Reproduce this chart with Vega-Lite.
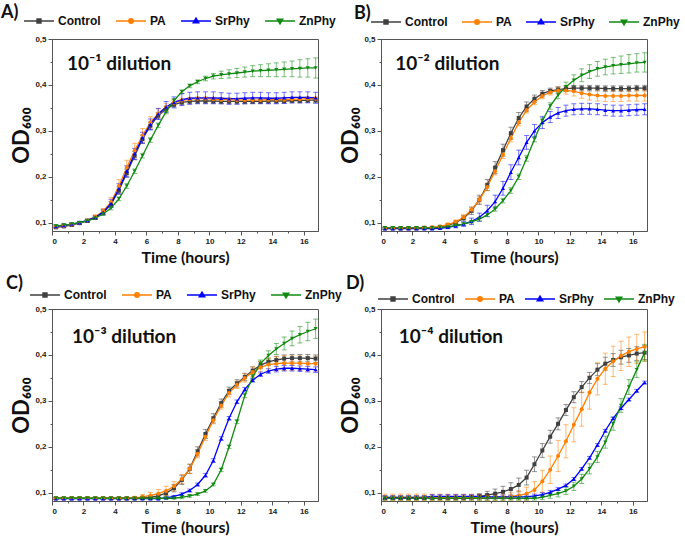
{
"$schema":"https://vega.github.io/schema/vega-lite/v6.json",
"padding":{"left":0,"top":3,"right":0,"bottom":0},
"background":"white",
"columns":2,
"spacing":{"row":78,"column":63},
"bounds":"flush",
"resolve":{"scale":{"color":"independent"},"legend":{"color":"independent"}},
"datasets":{
"A":[
{"s":"Control","t":0.25,"y":0.090,"e":0.002},{"s":"Control","t":0.75,"y":0.092,"e":0.002},{"s":"Control","t":1.25,"y":0.095,"e":0.002},{"s":"Control","t":1.75,"y":0.099,"e":0.002},{"s":"Control","t":2.25,"y":0.104,"e":0.002},{"s":"Control","t":2.75,"y":0.111,"e":0.003},{"s":"Control","t":3.25,"y":0.122,"e":0.004},{"s":"Control","t":3.75,"y":0.140,"e":0.006},{"s":"Control","t":4.25,"y":0.170,"e":0.008},{"s":"Control","t":4.75,"y":0.208,"e":0.009},{"s":"Control","t":5.25,"y":0.246,"e":0.009},{"s":"Control","t":5.75,"y":0.282,"e":0.009},{"s":"Control","t":6.25,"y":0.311,"e":0.008},{"s":"Control","t":6.75,"y":0.333,"e":0.007},{"s":"Control","t":7.25,"y":0.348,"e":0.006},{"s":"Control","t":7.75,"y":0.357,"e":0.005},{"s":"Control","t":8.25,"y":0.362,"e":0.005},{"s":"Control","t":8.75,"y":0.364,"e":0.005},{"s":"Control","t":9.25,"y":0.365,"e":0.005},{"s":"Control","t":9.75,"y":0.365,"e":0.005},{"s":"Control","t":10.25,"y":0.365,"e":0.005},{"s":"Control","t":10.75,"y":0.364,"e":0.005},{"s":"Control","t":11.25,"y":0.364,"e":0.005},{"s":"Control","t":11.75,"y":0.364,"e":0.005},{"s":"Control","t":12.25,"y":0.364,"e":0.005},{"s":"Control","t":12.75,"y":0.364,"e":0.005},{"s":"Control","t":13.25,"y":0.364,"e":0.005},{"s":"Control","t":13.75,"y":0.365,"e":0.005},{"s":"Control","t":14.25,"y":0.365,"e":0.005},{"s":"Control","t":14.75,"y":0.365,"e":0.005},{"s":"Control","t":15.25,"y":0.366,"e":0.005},{"s":"Control","t":15.75,"y":0.366,"e":0.005},{"s":"Control","t":16.25,"y":0.367,"e":0.005},{"s":"Control","t":16.75,"y":0.367,"e":0.005},
{"s":"PA","t":0.25,"y":0.091,"e":0.002},{"s":"PA","t":0.75,"y":0.093,"e":0.002},{"s":"PA","t":1.25,"y":0.096,"e":0.002},{"s":"PA","t":1.75,"y":0.100,"e":0.002},{"s":"PA","t":2.25,"y":0.105,"e":0.003},{"s":"PA","t":2.75,"y":0.113,"e":0.004},{"s":"PA","t":3.25,"y":0.125,"e":0.006},{"s":"PA","t":3.75,"y":0.145,"e":0.010},{"s":"PA","t":4.25,"y":0.180,"e":0.014},{"s":"PA","t":4.75,"y":0.220,"e":0.016},{"s":"PA","t":5.25,"y":0.257,"e":0.016},{"s":"PA","t":5.75,"y":0.290,"e":0.015},{"s":"PA","t":6.25,"y":0.318,"e":0.013},{"s":"PA","t":6.75,"y":0.338,"e":0.010},{"s":"PA","t":7.25,"y":0.352,"e":0.008},{"s":"PA","t":7.75,"y":0.361,"e":0.006},{"s":"PA","t":8.25,"y":0.366,"e":0.005},{"s":"PA","t":8.75,"y":0.369,"e":0.004},{"s":"PA","t":9.25,"y":0.370,"e":0.004},{"s":"PA","t":9.75,"y":0.370,"e":0.004},{"s":"PA","t":10.25,"y":0.369,"e":0.004},{"s":"PA","t":10.75,"y":0.368,"e":0.004},{"s":"PA","t":11.25,"y":0.368,"e":0.004},{"s":"PA","t":11.75,"y":0.367,"e":0.004},{"s":"PA","t":12.25,"y":0.367,"e":0.004},{"s":"PA","t":12.75,"y":0.367,"e":0.004},{"s":"PA","t":13.25,"y":0.367,"e":0.004},{"s":"PA","t":13.75,"y":0.368,"e":0.004},{"s":"PA","t":14.25,"y":0.368,"e":0.004},{"s":"PA","t":14.75,"y":0.368,"e":0.004},{"s":"PA","t":15.25,"y":0.369,"e":0.004},{"s":"PA","t":15.75,"y":0.369,"e":0.004},{"s":"PA","t":16.25,"y":0.370,"e":0.004},{"s":"PA","t":16.75,"y":0.370,"e":0.004},
{"s":"SrPhy","t":0.25,"y":0.092,"e":0.003},{"s":"SrPhy","t":0.75,"y":0.094,"e":0.003},{"s":"SrPhy","t":1.25,"y":0.097,"e":0.003},{"s":"SrPhy","t":1.75,"y":0.100,"e":0.003},{"s":"SrPhy","t":2.25,"y":0.105,"e":0.003},{"s":"SrPhy","t":2.75,"y":0.112,"e":0.004},{"s":"SrPhy","t":3.25,"y":0.123,"e":0.006},{"s":"SrPhy","t":3.75,"y":0.142,"e":0.009},{"s":"SrPhy","t":4.25,"y":0.174,"e":0.011},{"s":"SrPhy","t":4.75,"y":0.212,"e":0.012},{"s":"SrPhy","t":5.25,"y":0.250,"e":0.012},{"s":"SrPhy","t":5.75,"y":0.285,"e":0.012},{"s":"SrPhy","t":6.25,"y":0.314,"e":0.012},{"s":"SrPhy","t":6.75,"y":0.337,"e":0.012},{"s":"SrPhy","t":7.25,"y":0.352,"e":0.012},{"s":"SrPhy","t":7.75,"y":0.362,"e":0.012},{"s":"SrPhy","t":8.25,"y":0.368,"e":0.013},{"s":"SrPhy","t":8.75,"y":0.371,"e":0.013},{"s":"SrPhy","t":9.25,"y":0.372,"e":0.013},{"s":"SrPhy","t":9.75,"y":0.372,"e":0.013},{"s":"SrPhy","t":10.25,"y":0.372,"e":0.013},{"s":"SrPhy","t":10.75,"y":0.371,"e":0.012},{"s":"SrPhy","t":11.25,"y":0.370,"e":0.012},{"s":"SrPhy","t":11.75,"y":0.370,"e":0.012},{"s":"SrPhy","t":12.25,"y":0.371,"e":0.012},{"s":"SrPhy","t":12.75,"y":0.372,"e":0.012},{"s":"SrPhy","t":13.25,"y":0.372,"e":0.012},{"s":"SrPhy","t":13.75,"y":0.371,"e":0.012},{"s":"SrPhy","t":14.25,"y":0.371,"e":0.012},{"s":"SrPhy","t":14.75,"y":0.372,"e":0.012},{"s":"SrPhy","t":15.25,"y":0.373,"e":0.012},{"s":"SrPhy","t":15.75,"y":0.373,"e":0.012},{"s":"SrPhy","t":16.25,"y":0.373,"e":0.012},{"s":"SrPhy","t":16.75,"y":0.372,"e":0.012},
{"s":"ZnPhy","t":0.25,"y":0.093,"e":0.003},{"s":"ZnPhy","t":0.75,"y":0.095,"e":0.003},{"s":"ZnPhy","t":1.25,"y":0.097,"e":0.003},{"s":"ZnPhy","t":1.75,"y":0.100,"e":0.003},{"s":"ZnPhy","t":2.25,"y":0.104,"e":0.003},{"s":"ZnPhy","t":2.75,"y":0.110,"e":0.003},{"s":"ZnPhy","t":3.25,"y":0.119,"e":0.003},{"s":"ZnPhy","t":3.75,"y":0.132,"e":0.004},{"s":"ZnPhy","t":4.25,"y":0.152,"e":0.004},{"s":"ZnPhy","t":4.75,"y":0.180,"e":0.005},{"s":"ZnPhy","t":5.25,"y":0.212,"e":0.005},{"s":"ZnPhy","t":5.75,"y":0.246,"e":0.005},{"s":"ZnPhy","t":6.25,"y":0.280,"e":0.005},{"s":"ZnPhy","t":6.75,"y":0.312,"e":0.005},{"s":"ZnPhy","t":7.25,"y":0.342,"e":0.005},{"s":"ZnPhy","t":7.75,"y":0.366,"e":0.004},{"s":"ZnPhy","t":8.25,"y":0.385,"e":0.004},{"s":"ZnPhy","t":8.75,"y":0.398,"e":0.004},{"s":"ZnPhy","t":9.25,"y":0.407,"e":0.004},{"s":"ZnPhy","t":9.75,"y":0.414,"e":0.005},{"s":"ZnPhy","t":10.25,"y":0.419,"e":0.006},{"s":"ZnPhy","t":10.75,"y":0.422,"e":0.008},{"s":"ZnPhy","t":11.25,"y":0.424,"e":0.009},{"s":"ZnPhy","t":11.75,"y":0.426,"e":0.010},{"s":"ZnPhy","t":12.25,"y":0.428,"e":0.011},{"s":"ZnPhy","t":12.75,"y":0.430,"e":0.012},{"s":"ZnPhy","t":13.25,"y":0.431,"e":0.013},{"s":"ZnPhy","t":13.75,"y":0.432,"e":0.014},{"s":"ZnPhy","t":14.25,"y":0.433,"e":0.015},{"s":"ZnPhy","t":14.75,"y":0.434,"e":0.016},{"s":"ZnPhy","t":15.25,"y":0.435,"e":0.017},{"s":"ZnPhy","t":15.75,"y":0.436,"e":0.019},{"s":"ZnPhy","t":16.25,"y":0.437,"e":0.020},{"s":"ZnPhy","t":16.75,"y":0.437,"e":0.022}
],
"B":[
{"s":"Control","t":0.25,"y":0.088,"e":0.002},{"s":"Control","t":0.75,"y":0.088,"e":0.002},{"s":"Control","t":1.25,"y":0.088,"e":0.002},{"s":"Control","t":1.75,"y":0.088,"e":0.002},{"s":"Control","t":2.25,"y":0.088,"e":0.002},{"s":"Control","t":2.75,"y":0.089,"e":0.002},{"s":"Control","t":3.25,"y":0.089,"e":0.002},{"s":"Control","t":3.75,"y":0.091,"e":0.002},{"s":"Control","t":4.25,"y":0.094,"e":0.003},{"s":"Control","t":4.75,"y":0.100,"e":0.004},{"s":"Control","t":5.25,"y":0.110,"e":0.006},{"s":"Control","t":5.75,"y":0.126,"e":0.008},{"s":"Control","t":6.25,"y":0.150,"e":0.010},{"s":"Control","t":6.75,"y":0.182,"e":0.012},{"s":"Control","t":7.25,"y":0.220,"e":0.013},{"s":"Control","t":7.75,"y":0.258,"e":0.013},{"s":"Control","t":8.25,"y":0.295,"e":0.013},{"s":"Control","t":8.75,"y":0.328,"e":0.012},{"s":"Control","t":9.25,"y":0.353,"e":0.010},{"s":"Control","t":9.75,"y":0.370,"e":0.008},{"s":"Control","t":10.25,"y":0.381,"e":0.007},{"s":"Control","t":10.75,"y":0.387,"e":0.006},{"s":"Control","t":11.25,"y":0.390,"e":0.006},{"s":"Control","t":11.75,"y":0.392,"e":0.006},{"s":"Control","t":12.25,"y":0.393,"e":0.006},{"s":"Control","t":12.75,"y":0.393,"e":0.006},{"s":"Control","t":13.25,"y":0.393,"e":0.006},{"s":"Control","t":13.75,"y":0.393,"e":0.006},{"s":"Control","t":14.25,"y":0.392,"e":0.006},{"s":"Control","t":14.75,"y":0.392,"e":0.006},{"s":"Control","t":15.25,"y":0.392,"e":0.006},{"s":"Control","t":15.75,"y":0.392,"e":0.006},{"s":"Control","t":16.25,"y":0.393,"e":0.006},{"s":"Control","t":16.75,"y":0.393,"e":0.006},
{"s":"PA","t":0.25,"y":0.088,"e":0.002},{"s":"PA","t":0.75,"y":0.088,"e":0.002},{"s":"PA","t":1.25,"y":0.088,"e":0.002},{"s":"PA","t":1.75,"y":0.088,"e":0.002},{"s":"PA","t":2.25,"y":0.088,"e":0.002},{"s":"PA","t":2.75,"y":0.089,"e":0.002},{"s":"PA","t":3.25,"y":0.090,"e":0.002},{"s":"PA","t":3.75,"y":0.092,"e":0.002},{"s":"PA","t":4.25,"y":0.096,"e":0.003},{"s":"PA","t":4.75,"y":0.102,"e":0.004},{"s":"PA","t":5.25,"y":0.112,"e":0.005},{"s":"PA","t":5.75,"y":0.128,"e":0.006},{"s":"PA","t":6.25,"y":0.150,"e":0.007},{"s":"PA","t":6.75,"y":0.178,"e":0.008},{"s":"PA","t":7.25,"y":0.212,"e":0.008},{"s":"PA","t":7.75,"y":0.248,"e":0.008},{"s":"PA","t":8.25,"y":0.284,"e":0.008},{"s":"PA","t":8.75,"y":0.318,"e":0.007},{"s":"PA","t":9.25,"y":0.345,"e":0.006},{"s":"PA","t":9.75,"y":0.363,"e":0.006},{"s":"PA","t":10.25,"y":0.376,"e":0.006},{"s":"PA","t":10.75,"y":0.384,"e":0.006},{"s":"PA","t":11.25,"y":0.388,"e":0.007},{"s":"PA","t":11.75,"y":0.388,"e":0.008},{"s":"PA","t":12.25,"y":0.386,"e":0.010},{"s":"PA","t":12.75,"y":0.382,"e":0.011},{"s":"PA","t":13.25,"y":0.379,"e":0.012},{"s":"PA","t":13.75,"y":0.377,"e":0.012},{"s":"PA","t":14.25,"y":0.376,"e":0.012},{"s":"PA","t":14.75,"y":0.376,"e":0.012},{"s":"PA","t":15.25,"y":0.376,"e":0.012},{"s":"PA","t":15.75,"y":0.377,"e":0.012},{"s":"PA","t":16.25,"y":0.377,"e":0.012},{"s":"PA","t":16.75,"y":0.377,"e":0.012},
{"s":"SrPhy","t":0.25,"y":0.087,"e":0.002},{"s":"SrPhy","t":0.75,"y":0.087,"e":0.002},{"s":"SrPhy","t":1.25,"y":0.087,"e":0.002},{"s":"SrPhy","t":1.75,"y":0.087,"e":0.002},{"s":"SrPhy","t":2.25,"y":0.087,"e":0.002},{"s":"SrPhy","t":2.75,"y":0.087,"e":0.002},{"s":"SrPhy","t":3.25,"y":0.087,"e":0.002},{"s":"SrPhy","t":3.75,"y":0.088,"e":0.002},{"s":"SrPhy","t":4.25,"y":0.090,"e":0.003},{"s":"SrPhy","t":4.75,"y":0.093,"e":0.004},{"s":"SrPhy","t":5.25,"y":0.097,"e":0.005},{"s":"SrPhy","t":5.75,"y":0.103,"e":0.007},{"s":"SrPhy","t":6.25,"y":0.112,"e":0.009},{"s":"SrPhy","t":6.75,"y":0.126,"e":0.012},{"s":"SrPhy","t":7.25,"y":0.146,"e":0.014},{"s":"SrPhy","t":7.75,"y":0.175,"e":0.015},{"s":"SrPhy","t":8.25,"y":0.210,"e":0.016},{"s":"SrPhy","t":8.75,"y":0.242,"e":0.016},{"s":"SrPhy","t":9.25,"y":0.275,"e":0.015},{"s":"SrPhy","t":9.75,"y":0.300,"e":0.014},{"s":"SrPhy","t":10.25,"y":0.318,"e":0.013},{"s":"SrPhy","t":10.75,"y":0.330,"e":0.012},{"s":"SrPhy","t":11.25,"y":0.339,"e":0.012},{"s":"SrPhy","t":11.75,"y":0.344,"e":0.012},{"s":"SrPhy","t":12.25,"y":0.347,"e":0.012},{"s":"SrPhy","t":12.75,"y":0.348,"e":0.012},{"s":"SrPhy","t":13.25,"y":0.348,"e":0.012},{"s":"SrPhy","t":13.75,"y":0.347,"e":0.012},{"s":"SrPhy","t":14.25,"y":0.345,"e":0.012},{"s":"SrPhy","t":14.75,"y":0.344,"e":0.012},{"s":"SrPhy","t":15.25,"y":0.344,"e":0.012},{"s":"SrPhy","t":15.75,"y":0.345,"e":0.012},{"s":"SrPhy","t":16.25,"y":0.346,"e":0.012},{"s":"SrPhy","t":16.75,"y":0.347,"e":0.012},
{"s":"ZnPhy","t":0.25,"y":0.089,"e":0.002},{"s":"ZnPhy","t":0.75,"y":0.089,"e":0.002},{"s":"ZnPhy","t":1.25,"y":0.089,"e":0.002},{"s":"ZnPhy","t":1.75,"y":0.089,"e":0.002},{"s":"ZnPhy","t":2.25,"y":0.089,"e":0.002},{"s":"ZnPhy","t":2.75,"y":0.089,"e":0.002},{"s":"ZnPhy","t":3.25,"y":0.089,"e":0.002},{"s":"ZnPhy","t":3.75,"y":0.090,"e":0.002},{"s":"ZnPhy","t":4.25,"y":0.091,"e":0.002},{"s":"ZnPhy","t":4.75,"y":0.094,"e":0.002},{"s":"ZnPhy","t":5.25,"y":0.097,"e":0.003},{"s":"ZnPhy","t":5.75,"y":0.102,"e":0.003},{"s":"ZnPhy","t":6.25,"y":0.108,"e":0.004},{"s":"ZnPhy","t":6.75,"y":0.117,"e":0.004},{"s":"ZnPhy","t":7.25,"y":0.130,"e":0.005},{"s":"ZnPhy","t":7.75,"y":0.148,"e":0.005},{"s":"ZnPhy","t":8.25,"y":0.170,"e":0.006},{"s":"ZnPhy","t":8.75,"y":0.200,"e":0.006},{"s":"ZnPhy","t":9.25,"y":0.240,"e":0.006},{"s":"ZnPhy","t":9.75,"y":0.282,"e":0.006},{"s":"ZnPhy","t":10.25,"y":0.322,"e":0.006},{"s":"ZnPhy","t":10.75,"y":0.354,"e":0.007},{"s":"ZnPhy","t":11.25,"y":0.378,"e":0.008},{"s":"ZnPhy","t":11.75,"y":0.396,"e":0.010},{"s":"ZnPhy","t":12.25,"y":0.410,"e":0.012},{"s":"ZnPhy","t":12.75,"y":0.421,"e":0.014},{"s":"ZnPhy","t":13.25,"y":0.429,"e":0.015},{"s":"ZnPhy","t":13.75,"y":0.435,"e":0.016},{"s":"ZnPhy","t":14.25,"y":0.439,"e":0.017},{"s":"ZnPhy","t":14.75,"y":0.442,"e":0.018},{"s":"ZnPhy","t":15.25,"y":0.444,"e":0.019},{"s":"ZnPhy","t":15.75,"y":0.446,"e":0.020},{"s":"ZnPhy","t":16.25,"y":0.448,"e":0.020},{"s":"ZnPhy","t":16.75,"y":0.449,"e":0.021}
],
"C":[
{"s":"Control","t":0.25,"y":0.088,"e":0.002},{"s":"Control","t":0.75,"y":0.088,"e":0.002},{"s":"Control","t":1.25,"y":0.088,"e":0.002},{"s":"Control","t":1.75,"y":0.088,"e":0.002},{"s":"Control","t":2.25,"y":0.088,"e":0.002},{"s":"Control","t":2.75,"y":0.088,"e":0.002},{"s":"Control","t":3.25,"y":0.088,"e":0.002},{"s":"Control","t":3.75,"y":0.088,"e":0.002},{"s":"Control","t":4.25,"y":0.088,"e":0.002},{"s":"Control","t":4.75,"y":0.088,"e":0.002},{"s":"Control","t":5.25,"y":0.088,"e":0.002},{"s":"Control","t":5.75,"y":0.089,"e":0.002},{"s":"Control","t":6.25,"y":0.090,"e":0.003},{"s":"Control","t":6.75,"y":0.093,"e":0.004},{"s":"Control","t":7.25,"y":0.099,"e":0.006},{"s":"Control","t":7.75,"y":0.110,"e":0.008},{"s":"Control","t":8.25,"y":0.128,"e":0.010},{"s":"Control","t":8.75,"y":0.152,"e":0.010},{"s":"Control","t":9.25,"y":0.190,"e":0.010},{"s":"Control","t":9.75,"y":0.228,"e":0.010},{"s":"Control","t":10.25,"y":0.262,"e":0.010},{"s":"Control","t":10.75,"y":0.295,"e":0.009},{"s":"Control","t":11.25,"y":0.322,"e":0.008},{"s":"Control","t":11.75,"y":0.338,"e":0.008},{"s":"Control","t":12.25,"y":0.352,"e":0.008},{"s":"Control","t":12.75,"y":0.366,"e":0.008},{"s":"Control","t":13.25,"y":0.378,"e":0.008},{"s":"Control","t":13.75,"y":0.385,"e":0.008},{"s":"Control","t":14.25,"y":0.389,"e":0.008},{"s":"Control","t":14.75,"y":0.392,"e":0.008},{"s":"Control","t":15.25,"y":0.393,"e":0.008},{"s":"Control","t":15.75,"y":0.393,"e":0.008},{"s":"Control","t":16.25,"y":0.393,"e":0.008},{"s":"Control","t":16.75,"y":0.392,"e":0.008},
{"s":"PA","t":0.25,"y":0.088,"e":0.002},{"s":"PA","t":0.75,"y":0.088,"e":0.002},{"s":"PA","t":1.25,"y":0.088,"e":0.002},{"s":"PA","t":1.75,"y":0.088,"e":0.002},{"s":"PA","t":2.25,"y":0.088,"e":0.002},{"s":"PA","t":2.75,"y":0.088,"e":0.002},{"s":"PA","t":3.25,"y":0.088,"e":0.002},{"s":"PA","t":3.75,"y":0.088,"e":0.002},{"s":"PA","t":4.25,"y":0.088,"e":0.002},{"s":"PA","t":4.75,"y":0.088,"e":0.002},{"s":"PA","t":5.25,"y":0.089,"e":0.003},{"s":"PA","t":5.75,"y":0.091,"e":0.005},{"s":"PA","t":6.25,"y":0.094,"e":0.007},{"s":"PA","t":6.75,"y":0.098,"e":0.009},{"s":"PA","t":7.25,"y":0.104,"e":0.010},{"s":"PA","t":7.75,"y":0.114,"e":0.010},{"s":"PA","t":8.25,"y":0.130,"e":0.010},{"s":"PA","t":8.75,"y":0.152,"e":0.010},{"s":"PA","t":9.25,"y":0.185,"e":0.009},{"s":"PA","t":9.75,"y":0.222,"e":0.008},{"s":"PA","t":10.25,"y":0.258,"e":0.008},{"s":"PA","t":10.75,"y":0.290,"e":0.008},{"s":"PA","t":11.25,"y":0.317,"e":0.008},{"s":"PA","t":11.75,"y":0.335,"e":0.008},{"s":"PA","t":12.25,"y":0.350,"e":0.009},{"s":"PA","t":12.75,"y":0.363,"e":0.011},{"s":"PA","t":13.25,"y":0.373,"e":0.013},{"s":"PA","t":13.75,"y":0.379,"e":0.014},{"s":"PA","t":14.25,"y":0.381,"e":0.015},{"s":"PA","t":14.75,"y":0.382,"e":0.016},{"s":"PA","t":15.25,"y":0.382,"e":0.016},{"s":"PA","t":15.75,"y":0.382,"e":0.016},{"s":"PA","t":16.25,"y":0.381,"e":0.016},{"s":"PA","t":16.75,"y":0.381,"e":0.016},
{"s":"SrPhy","t":0.25,"y":0.087,"e":0.002},{"s":"SrPhy","t":0.75,"y":0.087,"e":0.002},{"s":"SrPhy","t":1.25,"y":0.087,"e":0.002},{"s":"SrPhy","t":1.75,"y":0.087,"e":0.002},{"s":"SrPhy","t":2.25,"y":0.087,"e":0.002},{"s":"SrPhy","t":2.75,"y":0.087,"e":0.002},{"s":"SrPhy","t":3.25,"y":0.087,"e":0.002},{"s":"SrPhy","t":3.75,"y":0.087,"e":0.002},{"s":"SrPhy","t":4.25,"y":0.087,"e":0.002},{"s":"SrPhy","t":4.75,"y":0.087,"e":0.002},{"s":"SrPhy","t":5.25,"y":0.087,"e":0.002},{"s":"SrPhy","t":5.75,"y":0.087,"e":0.002},{"s":"SrPhy","t":6.25,"y":0.087,"e":0.002},{"s":"SrPhy","t":6.75,"y":0.087,"e":0.002},{"s":"SrPhy","t":7.25,"y":0.089,"e":0.002},{"s":"SrPhy","t":7.75,"y":0.092,"e":0.002},{"s":"SrPhy","t":8.25,"y":0.097,"e":0.003},{"s":"SrPhy","t":8.75,"y":0.105,"e":0.003},{"s":"SrPhy","t":9.25,"y":0.118,"e":0.003},{"s":"SrPhy","t":9.75,"y":0.138,"e":0.004},{"s":"SrPhy","t":10.25,"y":0.170,"e":0.004},{"s":"SrPhy","t":10.75,"y":0.218,"e":0.004},{"s":"SrPhy","t":11.25,"y":0.262,"e":0.004},{"s":"SrPhy","t":11.75,"y":0.298,"e":0.004},{"s":"SrPhy","t":12.25,"y":0.325,"e":0.004},{"s":"SrPhy","t":12.75,"y":0.345,"e":0.004},{"s":"SrPhy","t":13.25,"y":0.358,"e":0.005},{"s":"SrPhy","t":13.75,"y":0.365,"e":0.005},{"s":"SrPhy","t":14.25,"y":0.369,"e":0.006},{"s":"SrPhy","t":14.75,"y":0.371,"e":0.006},{"s":"SrPhy","t":15.25,"y":0.371,"e":0.006},{"s":"SrPhy","t":15.75,"y":0.370,"e":0.006},{"s":"SrPhy","t":16.25,"y":0.369,"e":0.006},{"s":"SrPhy","t":16.75,"y":0.368,"e":0.006},
{"s":"ZnPhy","t":0.25,"y":0.088,"e":0.002},{"s":"ZnPhy","t":0.75,"y":0.088,"e":0.002},{"s":"ZnPhy","t":1.25,"y":0.088,"e":0.002},{"s":"ZnPhy","t":1.75,"y":0.088,"e":0.002},{"s":"ZnPhy","t":2.25,"y":0.088,"e":0.002},{"s":"ZnPhy","t":2.75,"y":0.088,"e":0.002},{"s":"ZnPhy","t":3.25,"y":0.088,"e":0.002},{"s":"ZnPhy","t":3.75,"y":0.088,"e":0.002},{"s":"ZnPhy","t":4.25,"y":0.088,"e":0.002},{"s":"ZnPhy","t":4.75,"y":0.088,"e":0.002},{"s":"ZnPhy","t":5.25,"y":0.088,"e":0.002},{"s":"ZnPhy","t":5.75,"y":0.088,"e":0.002},{"s":"ZnPhy","t":6.25,"y":0.088,"e":0.002},{"s":"ZnPhy","t":6.75,"y":0.088,"e":0.002},{"s":"ZnPhy","t":7.25,"y":0.088,"e":0.002},{"s":"ZnPhy","t":7.75,"y":0.088,"e":0.002},{"s":"ZnPhy","t":8.25,"y":0.090,"e":0.003},{"s":"ZnPhy","t":8.75,"y":0.093,"e":0.003},{"s":"ZnPhy","t":9.25,"y":0.097,"e":0.003},{"s":"ZnPhy","t":9.75,"y":0.104,"e":0.003},{"s":"ZnPhy","t":10.25,"y":0.118,"e":0.003},{"s":"ZnPhy","t":10.75,"y":0.150,"e":0.004},{"s":"ZnPhy","t":11.25,"y":0.200,"e":0.004},{"s":"ZnPhy","t":11.75,"y":0.255,"e":0.004},{"s":"ZnPhy","t":12.25,"y":0.312,"e":0.005},{"s":"ZnPhy","t":12.75,"y":0.352,"e":0.006},{"s":"ZnPhy","t":13.25,"y":0.381,"e":0.008},{"s":"ZnPhy","t":13.75,"y":0.399,"e":0.010},{"s":"ZnPhy","t":14.25,"y":0.413,"e":0.012},{"s":"ZnPhy","t":14.75,"y":0.425,"e":0.014},{"s":"ZnPhy","t":15.25,"y":0.436,"e":0.016},{"s":"ZnPhy","t":15.75,"y":0.444,"e":0.018},{"s":"ZnPhy","t":16.25,"y":0.451,"e":0.020},{"s":"ZnPhy","t":16.75,"y":0.457,"e":0.021}
],
"D":[
{"s":"Control","t":0.25,"y":0.089,"e":0.003},{"s":"Control","t":0.75,"y":0.089,"e":0.003},{"s":"Control","t":1.25,"y":0.089,"e":0.003},{"s":"Control","t":1.75,"y":0.089,"e":0.003},{"s":"Control","t":2.25,"y":0.089,"e":0.003},{"s":"Control","t":2.75,"y":0.089,"e":0.003},{"s":"Control","t":3.25,"y":0.089,"e":0.003},{"s":"Control","t":3.75,"y":0.089,"e":0.003},{"s":"Control","t":4.25,"y":0.089,"e":0.003},{"s":"Control","t":4.75,"y":0.089,"e":0.003},{"s":"Control","t":5.25,"y":0.089,"e":0.003},{"s":"Control","t":5.75,"y":0.090,"e":0.004},{"s":"Control","t":6.25,"y":0.092,"e":0.006},{"s":"Control","t":6.75,"y":0.095,"e":0.008},{"s":"Control","t":7.25,"y":0.098,"e":0.010},{"s":"Control","t":7.75,"y":0.102,"e":0.012},{"s":"Control","t":8.25,"y":0.108,"e":0.014},{"s":"Control","t":8.75,"y":0.117,"e":0.015},{"s":"Control","t":9.25,"y":0.133,"e":0.016},{"s":"Control","t":9.75,"y":0.162,"e":0.016},{"s":"Control","t":10.25,"y":0.192,"e":0.015},{"s":"Control","t":10.75,"y":0.222,"e":0.014},{"s":"Control","t":11.25,"y":0.250,"e":0.013},{"s":"Control","t":11.75,"y":0.280,"e":0.012},{"s":"Control","t":12.25,"y":0.308,"e":0.012},{"s":"Control","t":12.75,"y":0.330,"e":0.012},{"s":"Control","t":13.25,"y":0.350,"e":0.012},{"s":"Control","t":13.75,"y":0.368,"e":0.013},{"s":"Control","t":14.25,"y":0.381,"e":0.014},{"s":"Control","t":14.75,"y":0.389,"e":0.014},{"s":"Control","t":15.25,"y":0.395,"e":0.015},{"s":"Control","t":15.75,"y":0.399,"e":0.015},{"s":"Control","t":16.25,"y":0.403,"e":0.015},{"s":"Control","t":16.75,"y":0.405,"e":0.015},
{"s":"PA","t":0.25,"y":0.090,"e":0.007},{"s":"PA","t":0.75,"y":0.090,"e":0.007},{"s":"PA","t":1.25,"y":0.090,"e":0.007},{"s":"PA","t":1.75,"y":0.090,"e":0.007},{"s":"PA","t":2.25,"y":0.090,"e":0.007},{"s":"PA","t":2.75,"y":0.090,"e":0.007},{"s":"PA","t":3.25,"y":0.090,"e":0.007},{"s":"PA","t":3.75,"y":0.090,"e":0.007},{"s":"PA","t":4.25,"y":0.090,"e":0.007},{"s":"PA","t":4.75,"y":0.090,"e":0.007},{"s":"PA","t":5.25,"y":0.090,"e":0.007},{"s":"PA","t":5.75,"y":0.090,"e":0.007},{"s":"PA","t":6.25,"y":0.090,"e":0.007},{"s":"PA","t":6.75,"y":0.090,"e":0.007},{"s":"PA","t":7.25,"y":0.090,"e":0.007},{"s":"PA","t":7.75,"y":0.090,"e":0.007},{"s":"PA","t":8.25,"y":0.092,"e":0.008},{"s":"PA","t":8.75,"y":0.094,"e":0.010},{"s":"PA","t":9.25,"y":0.098,"e":0.014},{"s":"PA","t":9.75,"y":0.106,"e":0.018},{"s":"PA","t":10.25,"y":0.125,"e":0.024},{"s":"PA","t":10.75,"y":0.150,"e":0.030},{"s":"PA","t":11.25,"y":0.180,"e":0.034},{"s":"PA","t":11.75,"y":0.212,"e":0.036},{"s":"PA","t":12.25,"y":0.248,"e":0.037},{"s":"PA","t":12.75,"y":0.282,"e":0.037},{"s":"PA","t":13.25,"y":0.318,"e":0.036},{"s":"PA","t":13.75,"y":0.348,"e":0.035},{"s":"PA","t":14.25,"y":0.370,"e":0.034},{"s":"PA","t":14.75,"y":0.386,"e":0.033},{"s":"PA","t":15.25,"y":0.398,"e":0.032},{"s":"PA","t":15.75,"y":0.407,"e":0.032},{"s":"PA","t":16.25,"y":0.413,"e":0.032},{"s":"PA","t":16.75,"y":0.418,"e":0.032},
{"s":"SrPhy","t":0.25,"y":0.090,"e":0.004},{"s":"SrPhy","t":0.75,"y":0.090,"e":0.004},{"s":"SrPhy","t":1.25,"y":0.090,"e":0.004},{"s":"SrPhy","t":1.75,"y":0.090,"e":0.004},{"s":"SrPhy","t":2.25,"y":0.090,"e":0.004},{"s":"SrPhy","t":2.75,"y":0.090,"e":0.004},{"s":"SrPhy","t":3.25,"y":0.092,"e":0.004},{"s":"SrPhy","t":3.75,"y":0.092,"e":0.004},{"s":"SrPhy","t":4.25,"y":0.092,"e":0.004},{"s":"SrPhy","t":4.75,"y":0.092,"e":0.004},{"s":"SrPhy","t":5.25,"y":0.092,"e":0.004},{"s":"SrPhy","t":5.75,"y":0.092,"e":0.004},{"s":"SrPhy","t":6.25,"y":0.092,"e":0.004},{"s":"SrPhy","t":6.75,"y":0.091,"e":0.004},{"s":"SrPhy","t":7.25,"y":0.091,"e":0.004},{"s":"SrPhy","t":7.75,"y":0.091,"e":0.004},{"s":"SrPhy","t":8.25,"y":0.091,"e":0.004},{"s":"SrPhy","t":8.75,"y":0.091,"e":0.004},{"s":"SrPhy","t":9.25,"y":0.091,"e":0.004},{"s":"SrPhy","t":9.75,"y":0.093,"e":0.004},{"s":"SrPhy","t":10.25,"y":0.096,"e":0.004},{"s":"SrPhy","t":10.75,"y":0.101,"e":0.004},{"s":"SrPhy","t":11.25,"y":0.108,"e":0.003},{"s":"SrPhy","t":11.75,"y":0.116,"e":0.003},{"s":"SrPhy","t":12.25,"y":0.130,"e":0.003},{"s":"SrPhy","t":12.75,"y":0.152,"e":0.003},{"s":"SrPhy","t":13.25,"y":0.176,"e":0.003},{"s":"SrPhy","t":13.75,"y":0.204,"e":0.003},{"s":"SrPhy","t":14.25,"y":0.235,"e":0.003},{"s":"SrPhy","t":14.75,"y":0.262,"e":0.003},{"s":"SrPhy","t":15.25,"y":0.284,"e":0.003},{"s":"SrPhy","t":15.75,"y":0.303,"e":0.003},{"s":"SrPhy","t":16.25,"y":0.322,"e":0.003},{"s":"SrPhy","t":16.75,"y":0.340,"e":0.003},
{"s":"ZnPhy","t":0.25,"y":0.088,"e":0.004},{"s":"ZnPhy","t":0.75,"y":0.088,"e":0.004},{"s":"ZnPhy","t":1.25,"y":0.088,"e":0.004},{"s":"ZnPhy","t":1.75,"y":0.088,"e":0.004},{"s":"ZnPhy","t":2.25,"y":0.088,"e":0.004},{"s":"ZnPhy","t":2.75,"y":0.088,"e":0.004},{"s":"ZnPhy","t":3.25,"y":0.088,"e":0.004},{"s":"ZnPhy","t":3.75,"y":0.088,"e":0.004},{"s":"ZnPhy","t":4.25,"y":0.088,"e":0.004},{"s":"ZnPhy","t":4.75,"y":0.088,"e":0.004},{"s":"ZnPhy","t":5.25,"y":0.088,"e":0.004},{"s":"ZnPhy","t":5.75,"y":0.088,"e":0.004},{"s":"ZnPhy","t":6.25,"y":0.088,"e":0.004},{"s":"ZnPhy","t":6.75,"y":0.088,"e":0.004},{"s":"ZnPhy","t":7.25,"y":0.088,"e":0.004},{"s":"ZnPhy","t":7.75,"y":0.088,"e":0.004},{"s":"ZnPhy","t":8.25,"y":0.088,"e":0.004},{"s":"ZnPhy","t":8.75,"y":0.088,"e":0.004},{"s":"ZnPhy","t":9.25,"y":0.088,"e":0.004},{"s":"ZnPhy","t":9.75,"y":0.088,"e":0.004},{"s":"ZnPhy","t":10.25,"y":0.090,"e":0.005},{"s":"ZnPhy","t":10.75,"y":0.094,"e":0.006},{"s":"ZnPhy","t":11.25,"y":0.098,"e":0.007},{"s":"ZnPhy","t":11.75,"y":0.104,"e":0.008},{"s":"ZnPhy","t":12.25,"y":0.114,"e":0.009},{"s":"ZnPhy","t":12.75,"y":0.130,"e":0.010},{"s":"ZnPhy","t":13.25,"y":0.152,"e":0.011},{"s":"ZnPhy","t":13.75,"y":0.178,"e":0.012},{"s":"ZnPhy","t":14.25,"y":0.210,"e":0.013},{"s":"ZnPhy","t":14.75,"y":0.250,"e":0.014},{"s":"ZnPhy","t":15.25,"y":0.290,"e":0.015},{"s":"ZnPhy","t":15.75,"y":0.330,"e":0.016},{"s":"ZnPhy","t":16.25,"y":0.368,"e":0.017},{"s":"ZnPhy","t":16.75,"y":0.405,"e":0.018}
]
},
"concat":[
{"width":266,"height":192,"title":{"text":"A)","dx":-51,"offset":-17},"data":{"name":"A"},
"resolve":{"axis":{"x":"independent","y":"independent"}},
"encoding":{
"x":{"field":"t","type":"quantitative","scale":{"domain":[0,16.9],"nice":false},"axis":null},
"y":{"field":"y","type":"quantitative","scale":{"domain":[0.082,0.5],"nice":false,"zero":false},"axis":null},
"color":{"field":"s","type":"nominal","scale":{"domain":["Control","PA","SrPhy","ZnPhy"],"range":["#404040","#FF8000","#0000FF","#108A10"]},"legend":{"title":null,"legendX":-29,"legendY":-34,"encode":{"symbols":{"update":{"shape":{"signal":"datum.value=='Control'?'M-1,0H1M-0.13,-0.13H0.13V0.13H-0.13Z':datum.value=='PA'?'M-1,0H1M0.15,0A0.15,0.15,0,1,1,-0.15,0A0.15,0.15,0,1,1,0.15,0Z':datum.value=='SrPhy'?'M-1,0H1M0,-0.19L0.18,0.12H-0.18Z':'M-1,0H1M0,0.19L0.18,-0.12H-0.18Z'"},"size":{"value":900},"stroke":{"signal":"datum.value=='Control'?'#404040':datum.value=='PA'?'#FF8000':datum.value=='SrPhy'?'#0000FF':'#108A10'"},"fill":{"signal":"datum.value=='Control'?'#404040':datum.value=='PA'?'#FF8000':datum.value=='SrPhy'?'#0000FF':'#108A10'"},"opacity":{"value":1},"strokeWidth":{"value":1.5}}}}}}
},
"layer":[
{"mark":{"type":"errorbar","ticks":{"size":5},"opacity":0.55},"encoding":{"yError":{"field":"e"}}},
{"mark":{"type":"line","strokeWidth":1.3},"encoding":{"x":{"field":"t","type":"quantitative","axis":{"orient":"bottom","values":[0,2,4,6,8,10,12,14,16],"title":"Time (hours)"}},"y":{"field":"y","type":"quantitative","axis":{"orient":"left","values":[0.1,0.2,0.3,0.4,0.5],"title":"OD₆₀₀","labelExpr":"replace(format(datum.value,'.1f'),'.',',')"}}}},
{"transform":[{"filter":"datum.s=='Control'"}],"mark":{"type":"point","shape":"square"},"encoding":{"x":{"field":"t","type":"quantitative","axis":{"orient":"bottom","values":[1,3,5,7,9,11,13,15],"labels":false,"domain":false,"tickSize":2,"title":null}},"y":{"field":"y","type":"quantitative","axis":{"orient":"left","values":[0.15,0.25,0.35,0.45],"labels":false,"domain":false,"tickSize":2,"title":null}}}},
{"transform":[{"filter":"datum.s=='PA'"}],"mark":{"type":"point","shape":"circle"}},
{"transform":[{"filter":"datum.s=='SrPhy'"}],"mark":{"type":"point","shape":"triangle-up"}},
{"transform":[{"filter":"datum.s=='ZnPhy'"}],"mark":{"type":"point","shape":"triangle-down"}},
{"transform":[{"filter":"datum.s=='Control' && datum.t==0.25"}],"mark":{"type":"text","font":"Lato","fontWeight":"bold","fontSize":19,"align":"left","baseline":"alphabetic"},"encoding":{"x":{"datum":0.95,"type":"quantitative"},"y":{"datum":0.433,"type":"quantitative"},"text":{"value":"10⁻¹ dilution"},"color":{"value":"#111111"}}}
]},
{"width":266,"height":192,"title":{"text":"B)","dx":-27,"offset":-17},"data":{"name":"B"},
"resolve":{"axis":{"x":"independent","y":"independent"}},
"encoding":{
"x":{"field":"t","type":"quantitative","scale":{"domain":[0,16.9],"nice":false},"axis":null},
"y":{"field":"y","type":"quantitative","scale":{"domain":[0.082,0.5],"nice":false,"zero":false},"axis":null},
"color":{"field":"s","type":"nominal","scale":{"domain":["Control","PA","SrPhy","ZnPhy"],"range":["#404040","#FF8000","#0000FF","#108A10"]},"legend":{"title":null,"legendX":-11,"legendY":-33,"columnPadding":11,"encode":{"symbols":{"update":{"shape":{"signal":"datum.value=='Control'?'M-1,0H1M-0.13,-0.13H0.13V0.13H-0.13Z':datum.value=='PA'?'M-1,0H1M0.15,0A0.15,0.15,0,1,1,-0.15,0A0.15,0.15,0,1,1,0.15,0Z':datum.value=='SrPhy'?'M-1,0H1M0,-0.19L0.18,0.12H-0.18Z':'M-1,0H1M0,0.19L0.18,-0.12H-0.18Z'"},"size":{"value":900},"stroke":{"signal":"datum.value=='Control'?'#404040':datum.value=='PA'?'#FF8000':datum.value=='SrPhy'?'#0000FF':'#108A10'"},"fill":{"signal":"datum.value=='Control'?'#404040':datum.value=='PA'?'#FF8000':datum.value=='SrPhy'?'#0000FF':'#108A10'"},"opacity":{"value":1},"strokeWidth":{"value":1.5}}}}}}
},
"layer":[
{"mark":{"type":"errorbar","ticks":{"size":5},"opacity":0.55},"encoding":{"yError":{"field":"e"}}},
{"mark":{"type":"line","strokeWidth":1.3},"encoding":{"x":{"field":"t","type":"quantitative","axis":{"orient":"bottom","values":[0,2,4,6,8,10,12,14,16],"title":"Time (hours)"}},"y":{"field":"y","type":"quantitative","axis":{"orient":"left","values":[0.1,0.2,0.3,0.4,0.5],"title":"OD₆₀₀","labelExpr":"replace(format(datum.value,'.1f'),'.',',')"}}}},
{"transform":[{"filter":"datum.s=='Control'"}],"mark":{"type":"point","shape":"square"},"encoding":{"x":{"field":"t","type":"quantitative","axis":{"orient":"bottom","values":[1,3,5,7,9,11,13,15],"labels":false,"domain":false,"tickSize":2,"title":null}},"y":{"field":"y","type":"quantitative","axis":{"orient":"left","values":[0.15,0.25,0.35,0.45],"labels":false,"domain":false,"tickSize":2,"title":null}}}},
{"transform":[{"filter":"datum.s=='PA'"}],"mark":{"type":"point","shape":"circle"}},
{"transform":[{"filter":"datum.s=='SrPhy'"}],"mark":{"type":"point","shape":"triangle-up"}},
{"transform":[{"filter":"datum.s=='ZnPhy'"}],"mark":{"type":"point","shape":"triangle-down"}},
{"transform":[{"filter":"datum.s=='Control' && datum.t==0.25"}],"mark":{"type":"text","font":"Lato","fontWeight":"bold","fontSize":19,"align":"left","baseline":"alphabetic"},"encoding":{"x":{"datum":0.9,"type":"quantitative"},"y":{"datum":0.433,"type":"quantitative"},"text":{"value":"10⁻² dilution"},"color":{"value":"#111111"}}}
]},
{"width":266,"height":192,"title":{"text":"C)","dx":-46,"offset":-14},"data":{"name":"C"},
"resolve":{"axis":{"x":"independent","y":"independent"}},
"encoding":{
"x":{"field":"t","type":"quantitative","scale":{"domain":[0,16.9],"nice":false},"axis":null},
"y":{"field":"y","type":"quantitative","scale":{"domain":[0.082,0.5],"nice":false,"zero":false},"axis":null},
"color":{"field":"s","type":"nominal","scale":{"domain":["Control","PA","SrPhy","ZnPhy"],"range":["#404040","#FF8000","#0000FF","#108A10"]},"legend":{"title":null,"legendX":-23,"legendY":-30,"encode":{"symbols":{"update":{"shape":{"signal":"datum.value=='Control'?'M-1,0H1M-0.13,-0.13H0.13V0.13H-0.13Z':datum.value=='PA'?'M-1,0H1M0.15,0A0.15,0.15,0,1,1,-0.15,0A0.15,0.15,0,1,1,0.15,0Z':datum.value=='SrPhy'?'M-1,0H1M0,-0.19L0.18,0.12H-0.18Z':'M-1,0H1M0,0.19L0.18,-0.12H-0.18Z'"},"size":{"value":900},"stroke":{"signal":"datum.value=='Control'?'#404040':datum.value=='PA'?'#FF8000':datum.value=='SrPhy'?'#0000FF':'#108A10'"},"fill":{"signal":"datum.value=='Control'?'#404040':datum.value=='PA'?'#FF8000':datum.value=='SrPhy'?'#0000FF':'#108A10'"},"opacity":{"value":1},"strokeWidth":{"value":1.5}}}}}}
},
"layer":[
{"mark":{"type":"errorbar","ticks":{"size":5},"opacity":0.55},"encoding":{"yError":{"field":"e"}}},
{"mark":{"type":"line","strokeWidth":1.3},"encoding":{"x":{"field":"t","type":"quantitative","axis":{"orient":"bottom","values":[0,2,4,6,8,10,12,14,16],"title":"Time (hours)"}},"y":{"field":"y","type":"quantitative","axis":{"orient":"left","values":[0.1,0.2,0.3,0.4,0.5],"title":"OD₆₀₀","labelExpr":"replace(format(datum.value,'.1f'),'.',',')"}}}},
{"transform":[{"filter":"datum.s=='Control'"}],"mark":{"type":"point","shape":"square"},"encoding":{"x":{"field":"t","type":"quantitative","axis":{"orient":"bottom","values":[1,3,5,7,9,11,13,15],"labels":false,"domain":false,"tickSize":2,"title":null}},"y":{"field":"y","type":"quantitative","axis":{"orient":"left","values":[0.15,0.25,0.35,0.45],"labels":false,"domain":false,"tickSize":2,"title":null}}}},
{"transform":[{"filter":"datum.s=='PA'"}],"mark":{"type":"point","shape":"circle"}},
{"transform":[{"filter":"datum.s=='SrPhy'"}],"mark":{"type":"point","shape":"triangle-up"}},
{"transform":[{"filter":"datum.s=='ZnPhy'"}],"mark":{"type":"point","shape":"triangle-down"}},
{"transform":[{"filter":"datum.s=='Control' && datum.t==0.25"}],"mark":{"type":"text","font":"Lato","fontWeight":"bold","fontSize":19,"align":"left","baseline":"alphabetic"},"encoding":{"x":{"datum":1.27,"type":"quantitative"},"y":{"datum":0.425,"type":"quantitative"},"text":{"value":"10⁻³ dilution"},"color":{"value":"#111111"}}}
]},
{"width":266,"height":192,"title":{"text":"D)","dx":-35,"offset":-10},"data":{"name":"D"},
"resolve":{"axis":{"x":"independent","y":"independent"}},
"encoding":{
"x":{"field":"t","type":"quantitative","scale":{"domain":[0,16.9],"nice":false},"axis":null},
"y":{"field":"y","type":"quantitative","scale":{"domain":[0.082,0.5],"nice":false,"zero":false},"axis":null},
"color":{"field":"s","type":"nominal","scale":{"domain":["Control","PA","SrPhy","ZnPhy"],"range":["#404040","#FF8000","#0000FF","#108A10"]},"legend":{"title":null,"legendX":-4,"legendY":-26,"columnPadding":7,"encode":{"symbols":{"update":{"shape":{"signal":"datum.value=='Control'?'M-1,0H1M-0.13,-0.13H0.13V0.13H-0.13Z':datum.value=='PA'?'M-1,0H1M0.15,0A0.15,0.15,0,1,1,-0.15,0A0.15,0.15,0,1,1,0.15,0Z':datum.value=='SrPhy'?'M-1,0H1M0,-0.19L0.18,0.12H-0.18Z':'M-1,0H1M0,0.19L0.18,-0.12H-0.18Z'"},"size":{"value":900},"stroke":{"signal":"datum.value=='Control'?'#404040':datum.value=='PA'?'#FF8000':datum.value=='SrPhy'?'#0000FF':'#108A10'"},"fill":{"signal":"datum.value=='Control'?'#404040':datum.value=='PA'?'#FF8000':datum.value=='SrPhy'?'#0000FF':'#108A10'"},"opacity":{"value":1},"strokeWidth":{"value":1.5}}}}}}
},
"layer":[
{"mark":{"type":"errorbar","ticks":{"size":5},"opacity":0.55},"encoding":{"yError":{"field":"e"}}},
{"mark":{"type":"line","strokeWidth":1.3},"encoding":{"x":{"field":"t","type":"quantitative","axis":{"orient":"bottom","values":[0,2,4,6,8,10,12,14,16],"title":"Time (hours)"}},"y":{"field":"y","type":"quantitative","axis":{"orient":"left","values":[0.1,0.2,0.3,0.4,0.5],"title":"OD₆₀₀","labelExpr":"replace(format(datum.value,'.1f'),'.',',')"}}}},
{"transform":[{"filter":"datum.s=='Control'"}],"mark":{"type":"point","shape":"square"},"encoding":{"x":{"field":"t","type":"quantitative","axis":{"orient":"bottom","values":[1,3,5,7,9,11,13,15],"labels":false,"domain":false,"tickSize":2,"title":null}},"y":{"field":"y","type":"quantitative","axis":{"orient":"left","values":[0.15,0.25,0.35,0.45],"labels":false,"domain":false,"tickSize":2,"title":null}}}},
{"transform":[{"filter":"datum.s=='PA'"}],"mark":{"type":"point","shape":"circle"}},
{"transform":[{"filter":"datum.s=='SrPhy'"}],"mark":{"type":"point","shape":"triangle-up"}},
{"transform":[{"filter":"datum.s=='ZnPhy'"}],"mark":{"type":"point","shape":"triangle-down"}},
{"transform":[{"filter":"datum.s=='Control' && datum.t==0.25"}],"mark":{"type":"text","font":"Lato","fontWeight":"bold","fontSize":19,"align":"left","baseline":"alphabetic"},"encoding":{"x":{"datum":1.13,"type":"quantitative"},"y":{"datum":0.427,"type":"quantitative"},"text":{"value":"10⁻⁴ dilution"},"color":{"value":"#111111"}}}
]}
],
"config":{
"view":{"stroke":"#555555","strokeWidth":1},
"title":{"font":"Lato","fontWeight":"bold","fontSize":18,"anchor":"start","frame":"group","color":"#111111"},
"axis":{"labelFont":"Liberation Sans","labelFontWeight":"bold","labelFontSize":8,"labelColor":"#222222","titleFont":"Lato","titleFontWeight":"bold","titleColor":"#111111","grid":false,"tickSize":4,"domainColor":"#555555","tickColor":"#555555","labelPadding":2},
"axisX":{"titleFontSize":16,"titlePadding":4},
"axisY":{"titleFontSize":22,"titlePadding":1},
"point":{"filled":true,"size":16,"opacity":1},
"legend":{"orient":"none","direction":"horizontal","labelFont":"Liberation Sans","labelFontWeight":"bold","labelFontSize":12,"labelColor":"#111111","symbolSize":900,"labelOffset":3,"columnPadding":12,"symbolStrokeWidth":1.5}
}
}
